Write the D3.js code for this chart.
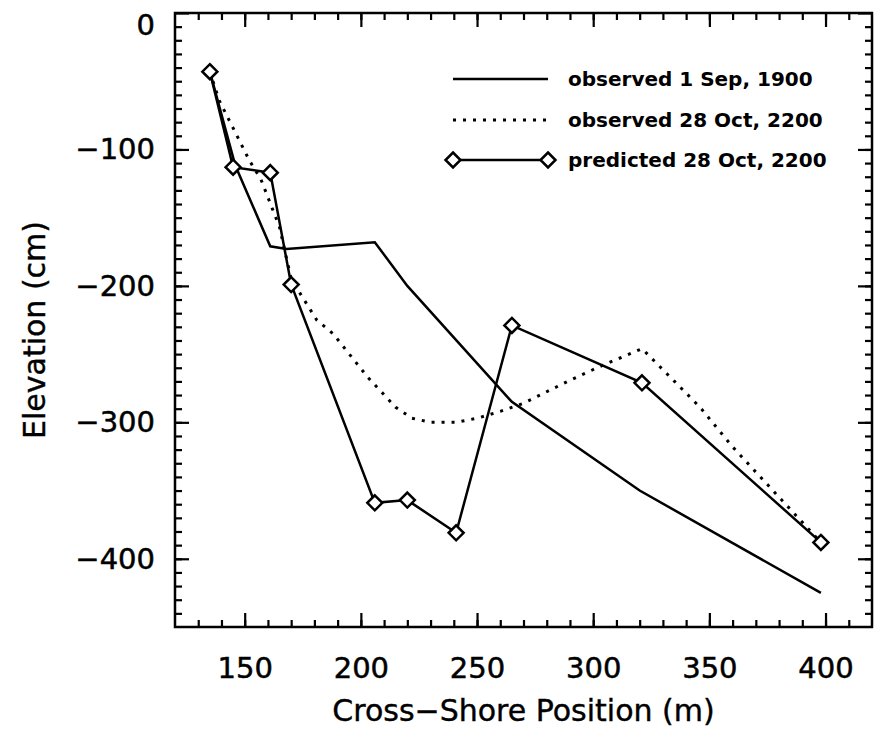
<!DOCTYPE html>
<html><head><meta charset="utf-8">
<script src="https://cdn.jsdelivr.net/npm/d3@7"></script>
<style>body{margin:0;background:#fff}svg{display:block}</style>
</head><body>
<svg id="c" width="874" height="730"></svg>
<script>
// ---- data ----
const xMajorTicks = [150, 200, 250, 300, 350, 400];
const yMajorTicks = [0, -100, -200, -300, -400];
const legendLabels = ["observed 1 Sep, 1900", "observed 28 Oct, 2200", "predicted 28 Oct, 2200"];

const obs1900X = [135, 146, 161, 168, 206, 220, 265, 320, 398];
const obs1900Y = [-43, -112, -171, -173, -168, -200, -285, -350, -425];

const obs2200X = [135, 139, 152, 157, 165, 170, 181, 188, 203, 215, 222, 230, 241, 250, 260, 270, 289, 303, 321, 335, 346, 360, 398];
const obs2200Y = [-43, -64, -108, -122, -157, -195, -225, -235, -267, -289, -297, -300, -300, -297, -292, -286, -270, -259, -246, -270, -289, -318, -388];

const predX = [135, 145, 161, 170, 206, 220, 241, 265, 321, 398];
const predY = [-43, -113, -117, -199, -359, -357, -381, -229, -271, -388];

// ---- layout ----
const L = 175, R = 872, T = 13, B = 627;
const svg = d3.select("#c");
const x = d3.scaleLinear().domain([120, 420]).range([L, R]);
const y = d3.scaleLinear().domain([-450, 0]).range([B, T]);
const font = "DejaVu Sans, sans-serif";

const xMinor = d3.range(130, 420, 10);
const yMinor = d3.range(-440, 0, 10);

const g = svg.append("g");
g.append("rect").attr("x", L).attr("y", T).attr("width", R - L).attr("height", B - T)
  .attr("fill", "none").attr("stroke", "#000").attr("stroke-width", 2.5);

function styleAxis(sel) {
  sel.select(".domain").remove();
  sel.selectAll("line").attr("stroke", "#000").attr("stroke-width", 2.2);
  sel.selectAll("text").remove();
}
const xBotMinor = d3.axisBottom(x).tickValues(xMinor).tickSizeInner(-7).tickSizeOuter(0);
const xTopMinor = d3.axisTop(x).tickValues(xMinor).tickSizeInner(-7).tickSizeOuter(0);
const yLeftMinor = d3.axisLeft(y).tickValues(yMinor).tickSizeInner(-7).tickSizeOuter(0);
const yRightMinor = d3.axisRight(y).tickValues(yMinor).tickSizeInner(-7).tickSizeOuter(0);
g.append("g").attr("transform", `translate(0,${B})`).call(xBotMinor).call(styleAxis);
g.append("g").attr("transform", `translate(0,${T})`).call(xTopMinor).call(styleAxis);
g.append("g").attr("transform", `translate(${L},0)`).call(yLeftMinor).call(styleAxis);
g.append("g").attr("transform", `translate(${R},0)`).call(yRightMinor).call(styleAxis);

const xBot = d3.axisBottom(x).tickValues(xMajorTicks).tickSizeInner(-14).tickSizeOuter(0).tickPadding(30);
const xTop = d3.axisTop(x).tickValues(xMajorTicks).tickSizeInner(-14).tickSizeOuter(0);
const yLeft = d3.axisLeft(y).tickValues(yMajorTicks).tickSizeInner(-14).tickSizeOuter(0).tickPadding(20)
  .tickFormat(d => d < 0 ? "\u2212" + Math.abs(d) : String(d));
const yRight = d3.axisRight(y).tickValues(yMajorTicks).tickSizeInner(-14).tickSizeOuter(0);

const gxb = g.append("g").attr("transform", `translate(0,${B})`).call(xBot);
gxb.select(".domain").remove();
gxb.selectAll("line").attr("stroke", "#000").attr("stroke-width", 2.2);
gxb.selectAll("text").attr("font-family", font).attr("font-size", 29).attr("fill", "#000")
  .attr("stroke", "#000").attr("stroke-width", 0.5);
g.append("g").attr("transform", `translate(0,${T})`).call(xTop).call(styleAxis);
const gyl = g.append("g").attr("transform", `translate(${L},0)`).call(yLeft);
gyl.select(".domain").remove();
gyl.selectAll("line").attr("stroke", "#000").attr("stroke-width", 2.2);
gyl.selectAll("text").attr("font-family", font).attr("font-size", 29).attr("fill", "#000")
  .attr("stroke", "#000").attr("stroke-width", 0.5)
  .attr("dy", d => d === 0 ? "0.75em" : "0.32em");
g.append("g").attr("transform", `translate(${R},0)`).call(yRight).call(styleAxis);

// titles
svg.append("text").attr("x", (L + R) / 2).attr("y", 721).attr("text-anchor", "middle")
  .attr("font-family", font).attr("font-size", 30).attr("stroke", "#000").attr("stroke-width", 0.4)
  .text("Cross\u2212Shore Position (m)");
svg.append("text").attr("transform", `translate(45,${(T + B) / 2 + 10}) rotate(-90)`).attr("text-anchor", "middle")
  .attr("font-family", font).attr("font-size", 30).attr("stroke", "#000").attr("stroke-width", 0.4)
  .text("Elevation (cm)");

// lines
const line = d3.line().x(d => x(d[0])).y(d => y(d[1]));
const s1900 = obs1900X.map((v, i) => [v, obs1900Y[i]]);
const s2200 = obs2200X.map((v, i) => [v, obs2200Y[i]]);
const sPred = predX.map((v, i) => [v, predY[i]]);

svg.append("path").datum(s1900).attr("d", line).attr("fill", "none").attr("stroke", "#000").attr("stroke-width", 2.5);
svg.append("path").datum(s2200).attr("d", line).attr("fill", "none").attr("stroke", "#000").attr("stroke-width", 3).attr("stroke-dasharray", "3,7");
svg.append("path").datum(sPred).attr("d", line).attr("fill", "none").attr("stroke", "#000").attr("stroke-width", 2.5);

const diamond = "M0,-7.5L7.5,0L0,7.5L-7.5,0Z";
svg.selectAll(".dm").data(sPred).enter().append("path").attr("class", "dm")
  .attr("transform", d => `translate(${x(d[0])},${y(d[1])})`)
  .attr("d", diamond).attr("fill", "#fff").attr("stroke", "#000").attr("stroke-width", 2.5);

// legend
const legY = [79, 120, 160];
const lx0 = 453, lx1 = 548, tx = 568;
const leg = svg.append("g");
leg.append("line").attr("x1", lx0).attr("x2", lx1).attr("y1", legY[0]).attr("y2", legY[0]).attr("stroke", "#000").attr("stroke-width", 2.5);
leg.append("line").attr("x1", lx0).attr("x2", lx1).attr("y1", legY[1]).attr("y2", legY[1]).attr("stroke", "#000").attr("stroke-width", 3).attr("stroke-dasharray", "3,7");
leg.append("line").attr("x1", lx0).attr("x2", lx1).attr("y1", legY[2]).attr("y2", legY[2]).attr("stroke", "#000").attr("stroke-width", 2.5);
[lx0, lx1].forEach(px => leg.append("path").attr("transform", `translate(${px},${legY[2]})`).attr("d", diamond)
  .attr("fill", "#fff").attr("stroke", "#000").attr("stroke-width", 2.5));
legendLabels.forEach((t, i) => leg.append("text").attr("x", tx).attr("y", legY[i]).attr("dy", "0.35em")
  .attr("font-family", font).attr("font-weight", "bold").attr("font-size", 20).text(t));
</script>
</body></html>
